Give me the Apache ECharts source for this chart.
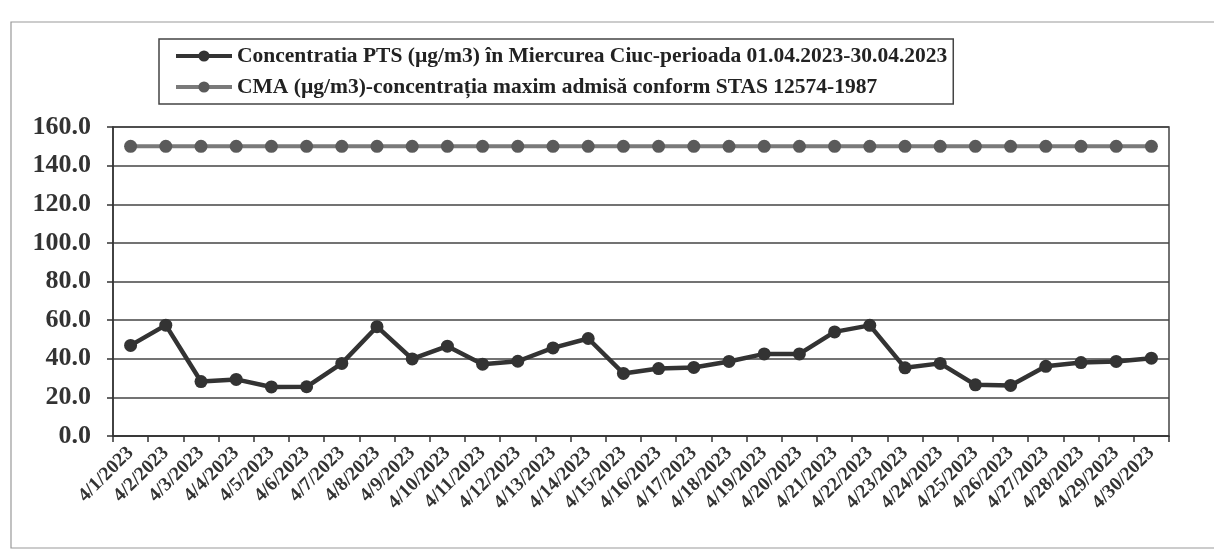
<!DOCTYPE html>
<html>
<head>
<meta charset="utf-8">
<script src="https://cdn.jsdelivr.net/npm/echarts@6/dist/echarts.min.js"></script>
<style>
  html, body { margin: 0; padding: 0; background: #fff; }
  #main { width: 1214px; height: 554px; }
</style>
</head>
<body>
<div id="main"></div>
<script>
// date categories on the x axis
const days = ['4/1/2023', '4/2/2023', '4/3/2023', '4/4/2023', '4/5/2023', '4/6/2023',
  '4/7/2023', '4/8/2023', '4/9/2023', '4/10/2023', '4/11/2023', '4/12/2023',
  '4/13/2023', '4/14/2023', '4/15/2023', '4/16/2023', '4/17/2023', '4/18/2023',
  '4/19/2023', '4/20/2023', '4/21/2023', '4/22/2023', '4/23/2023', '4/24/2023',
  '4/25/2023', '4/26/2023', '4/27/2023', '4/28/2023', '4/29/2023', '4/30/2023']

// PTS concentration
const pts = [46.9, 57.4, 28.2, 29.3, 25.4, 25.5, 37.6, 56.6, 39.9, 46.5,
  37.2, 38.7, 45.6, 50.5, 32.4, 34.9, 35.5, 38.6, 42.5, 42.5,
  53.9, 57.3, 35.3, 37.6, 26.5, 26.2, 36.1, 38.0, 38.6, 40.3]

// maximum admitted concentration
const cma = [150, 150, 150, 150, 150, 150, 150, 150, 150, 150,
  150, 150, 150, 150, 150, 150, 150, 150, 150, 150,
  150, 150, 150, 150, 150, 150, 150, 150, 150, 150]

const ptsName = 'Concentratia PTS (µg/m3) în Miercurea Ciuc-perioada 01.04.2023-30.04.2023'
const cmaName = 'CMA (µg/m3)-concentrația maxim admisă conform STAS 12574-1987'

const serif = '"Liberation Serif", "DejaVu Serif", serif'

const chart = echarts.init(document.getElementById('main'))
const option = {
  animation: false,
  backgroundColor: '#fff',
  graphic: [
    {
      // outer frame of the scanned chart
      type: 'rect',
      shape: { x: 11, y: 22, width: 1220, height: 526 },
      style: { fill: 'none', stroke: '#999', lineWidth: 1.2 },
      silent: true
    }
  ],
  legend: {
    orient: 'vertical',
    left: 159,
    top: 39,
    padding: [6, 6, 6, 15],
    itemGap: 9,
    itemWidth: 56,
    itemHeight: 14,
    borderColor: '#444',
    borderWidth: 1.5,
    lineStyle: { width: 4 },
    textStyle: { fontFamily: serif, fontSize: 21.5, fontWeight: 'bold', color: '#222' },
    data: [ptsName, cmaName]
  },
  grid: {
    left: 113,
    right: 45,
    top: 127,
    bottom: 118,
    show: true,
    borderColor: '#444',
    borderWidth: 1.5
  },
  xAxis: {
    type: 'category',
    data: days,
    boundaryGap: true,
    axisLine: { lineStyle: { color: '#333', width: 1.5 } },
    axisTick: { show: true, length: 6, lineStyle: { color: '#333', width: 1.5 } },
    axisLabel: {
      interval: 0,
      rotate: 45,
      margin: 14,
      fontFamily: serif,
      fontSize: 19.5,
      fontWeight: 'bold',
      color: '#333'
    }
  },
  yAxis: {
    type: 'value',
    min: 0,
    max: 160,
    interval: 20,
    axisLine: { show: true, lineStyle: { color: '#333', width: 1.5 } },
    axisTick: { show: true, length: 6, lineStyle: { color: '#333', width: 1.5 } },
    splitLine: { lineStyle: { color: '#444', width: 1.5 } },
    axisLabel: {
      margin: 22,
      fontFamily: serif,
      fontSize: 26,
      fontWeight: 'bold',
      color: '#333',
      formatter: v => v.toFixed(1)
    }
  },
  series: [
    {
      name: ptsName,
      type: 'line',
      data: pts,
      symbol: 'circle',
      symbolSize: 13,
      lineStyle: { color: '#333', width: 4.5 },
      itemStyle: { color: '#333' }
    },
    {
      name: cmaName,
      type: 'line',
      data: cma,
      symbol: 'circle',
      symbolSize: 13,
      lineStyle: { color: '#7a7a7a', width: 4 },
      itemStyle: { color: '#5a5a5a' }
    }
  ]
}
option && chart.setOption(option)
</script>
</body>
</html>
